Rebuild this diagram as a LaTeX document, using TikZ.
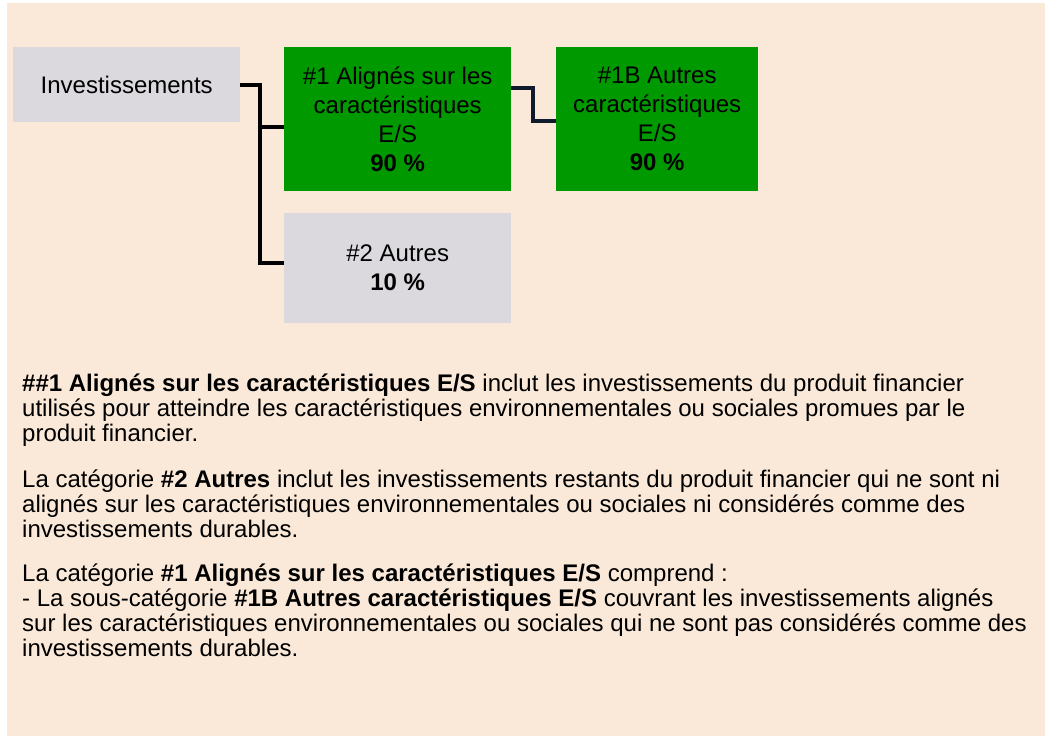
\documentclass[tikz,border=0pt]{standalone}
\usepackage{fontspec}
\setmainfont{Liberation Sans}
\usetikzlibrary{calc}
\definecolor{peach}{HTML}{FAE9D8}
\definecolor{boxgray}{HTML}{DBD9DE}
\definecolor{boxgreen}{HTML}{009900}
\definecolor{navy}{HTML}{0F1B2C}
\begin{document}
\begin{tikzpicture}[x=1pt,y=-1pt,
  box/.style={anchor=north west,inner sep=0pt,align=center,
    font=\fontsize{24}{29}\selectfont},
  graybox/.style={box,fill=boxgray},
  greenbox/.style={box,fill=boxgreen},
  para/.style={anchor=north west,inner sep=0pt,align=left,
    font=\fontsize{24}{25}\selectfont},
  conn/.style={line width=4pt,line join=miter,black},
  conn2/.style={line width=4pt,line join=miter,navy}]
\useasboundingbox (0,0) rectangle (1045,736);
\fill[peach] (7,3) rectangle (1045,736);

\node[graybox,minimum width=227pt,minimum height=75pt] (inv) at (13,47) {Investissements};
\node[greenbox,minimum width=227pt,minimum height=144pt] (b1) at (284,47)
  {\#1 Alignés sur les\\caractéristiques\\E/S\\\textbf{90 \%}};
\node[greenbox,minimum width=202pt,minimum height=144pt] (b1b) at (556,47)
  {\#1B Autres\\caractéristiques\\E/S\\\textbf{90 \%}};
\node[graybox,minimum width=227pt,minimum height=110pt] (b2) at (284,213)
  {\#2 Autres\\\textbf{10 \%}};

\coordinate (j) at (260,85);
\coordinate (b1w) at ($(b1.west)+(0,8)$);
\coordinate (b2w) at ($(b2.west)+(0,-5)$);
\draw[conn] (inv.east |- j) -- (j) -- (j |- b2w) -- (b2w);
\draw[conn] (j |- b1w) -- (b1w);

\coordinate (k) at (533,88);
\coordinate (b1bw) at ($(b1b.west)+(0,2)$);
\draw[conn2] (b1.east |- k) -- (k) -- (k |- b1bw) -- (b1bw);

\node[para] (p1) at (22,374)
  {\textbf{\#\#1 Alignés sur les caractéristiques E/S} inclut les investissements du produit financier\\
   utilisés pour atteindre les caractéristiques environnementales ou sociales promues par le\\
   produit financier.};
\node[para] (p2) at (22,470)
  {La catégorie \textbf{\#2 Autres} inclut les investissements restants du produit financier qui ne sont ni\\
   alignés sur les caractéristiques environnementales ou sociales ni considérés comme des\\
   investissements durables.};
\node[para] (p3) at (22,564)
  {La catégorie \textbf{\#1 Alignés sur les caractéristiques E/S} comprend :\\
   - La sous-catégorie \textbf{\#1B Autres caractéristiques E/S} couvrant les investissements alignés\\
   sur les caractéristiques environnementales ou sociales qui ne sont pas considérés comme des\\
   investissements durables.};
\end{tikzpicture}
\end{document}
